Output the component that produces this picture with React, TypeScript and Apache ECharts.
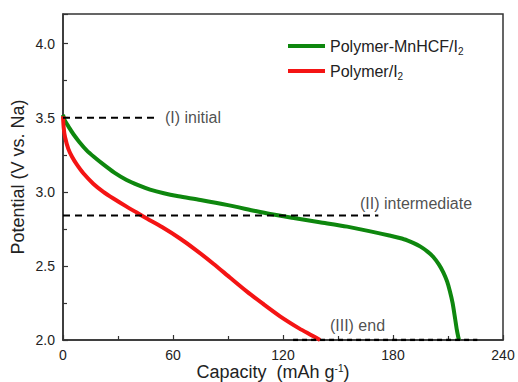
import React, { useEffect, useRef } from "react";
import * as echarts from "echarts";

const FONT = "'Liberation Sans', Arial, sans-serif";

const xTicks = [0, 60, 120, 180, 240];
const yTicks = [2.0, 2.5, 3.0, 3.5, 4.0];

const seriesNames = ["Polymer-MnHCF/I2", "Polymer/I2"];

const greenCurve: [number, number][] = [
  [0, 3.52], [1, 3.48], [3, 3.44], [5.6, 3.39], [9, 3.335], [12.9, 3.28], [17, 3.235],
  [22, 3.185], [28, 3.13], [34.7, 3.08], [41, 3.045], [47.5, 3.015], [55, 2.99],
  [63, 2.97], [75, 2.945], [90, 2.91], [105, 2.87], [113, 2.85], [125, 2.825],
  [140, 2.795], [155, 2.765], [167, 2.735], [178, 2.705], [186, 2.68], [191, 2.655],
  [195, 2.63], [199, 2.595], [202, 2.56], [205, 2.51], [207.5, 2.455], [209.5, 2.395],
  [211, 2.33], [212.5, 2.25], [213.8, 2.15], [214.8, 2.07], [215.6, 2.02], [216, 2.0],
];

const redCurve: [number, number][] = [
  [0, 3.51], [0.4, 3.43], [1.1, 3.37], [2.9, 3.29], [5, 3.235], [7.5, 3.185],
  [11.1, 3.125], [16.5, 3.055], [22, 3.0], [27.5, 2.955], [34.7, 2.9], [40.2, 2.86],
  [46, 2.818], [54, 2.762], [63.8, 2.685], [72, 2.612], [82, 2.515], [91, 2.422],
  [100.2, 2.328], [109, 2.245], [118.4, 2.16], [129, 2.077], [135, 2.036], [140.2, 2.0],
];

const dashInitial: [number, number][] = [[0, 3.5], [50, 3.5]];
const dashIntermediate: [number, number][] = [[0, 2.84], [172, 2.84]];
const dashEnd: [number, number][] = [[125.5, 2.0], [226, 2.0]];

const stageLabels = ["(I) initial", "(II) intermediate", "(III) end"];
const stageLabelPos: [number, number][] = [[55.6, 3.5], [162, 2.92], [145.6, 2.1]];

export default function App() {
  const ref = useRef<HTMLDivElement>(null);
  useEffect(() => {
    if (!ref.current) return;
    const chart = echarts.init(ref.current, undefined, { renderer: "svg" });
    const dashStyle = (w: number, dash: number[]) => ({
      type: "line",
      symbol: "none",
      silent: true,
      z: 5,
      lineStyle: { color: "#000", width: w, type: dash },
    });
    chart.setOption({
      animation: false,
      backgroundColor: "#fff",
      textStyle: { fontFamily: FONT },
      grid: {
        left: 63, right: 15, top: 14, bottom: 42,
        outerBoundsMode: "none",
        containLabel: false,
        show: true, borderColor: "#333", borderWidth: 1.5, backgroundColor: "transparent",
      },
      legend: {
        data: seriesNames,
        orient: "vertical",
        left: 283,
        top: 31,
        itemWidth: 37,
        itemHeight: 4,
        itemGap: 5,
        icon: "rect",
        formatter: (n: string) => n.slice(0, -1) + "{sub|2}",
        textStyle: {
          fontFamily: FONT,
          fontSize: 16,
          color: "#222",
          lineHeight: 20,
          rich: {
            sub: { fontSize: 10, fontFamily: FONT, color: "#222", padding: [10, 0, 0, 0] },
          },
        },
      },
      xAxis: {
        type: "value",
        min: xTicks[0],
        max: xTicks[xTicks.length - 1],
        interval: 60,
        name: "Capacity  (mAh g{sup|-1})",
        nameLocation: "middle",
        nameGap: 23,
        nameMoveOverlap: false,
        nameTextStyle: {
          fontFamily: FONT, fontSize: 18, color: "#222", lineHeight: 18,
          padding: [0, 20, 0, 0],
          rich: { sup: { fontSize: 10, fontFamily: FONT, color: "#222", padding: [0, 0, 8, 0] } },
        },
        axisLine: { show: true, lineStyle: { color: "#333", width: 1.5 } },
        axisTick: { show: true, inside: true, length: 5, lineStyle: { color: "#333", width: 1.2 } },
        minorTick: { show: true, splitNumber: 2, length: 4, lineStyle: { color: "#333", width: 1.2 } },
        splitLine: { show: false },
        axisLabel: { fontFamily: FONT, fontSize: 14, color: "#222", margin: 8 },
      },
      yAxis: {
        type: "value",
        min: yTicks[0],
        max: 4.2,
        interval: 0.5,
        name: "Potential (V vs. Na)",
        nameLocation: "middle",
        nameGap: 36,
        nameMoveOverlap: false,
        nameTextStyle: { fontFamily: FONT, fontSize: 18, color: "#222" },
        axisLine: { show: true, lineStyle: { color: "#333", width: 1.5 } },
        axisTick: { show: true, inside: true, length: 5, lineStyle: { color: "#333", width: 1.2 } },
        minorTick: { show: true, splitNumber: 2, length: 4, lineStyle: { color: "#333", width: 1.2 } },
        splitLine: { show: false },
        axisLabel: {
          fontFamily: FONT, fontSize: 14, color: "#222", margin: 8,
          formatter: (v: number) => (yTicks.some((t) => Math.abs(t - v) < 1e-6) ? v.toFixed(1) : ""),
        },
      },
      series: [
        {
          name: seriesNames[0],
          type: "line",
          data: greenCurve,
          symbol: "none",
          smooth: 0.25,
          color: "#0e870e",
          lineStyle: { color: "#0e870e", width: 4 },
          z: 3,
        },
        {
          name: seriesNames[1],
          type: "line",
          data: redCurve,
          symbol: "none",
          smooth: 0.25,
          color: "#f41414",
          lineStyle: { color: "#f41414", width: 4 },
          z: 3,
        },
        { name: "d1", data: dashInitial, ...dashStyle(2, [7, 5]) },
        { name: "d2", data: dashIntermediate, ...dashStyle(2, [7, 5]) },
        { name: "d3", data: dashEnd, ...dashStyle(2.5, [5, 4]) },
        {
          name: "labels",
          type: "scatter",
          symbolSize: 0,
          silent: true,
          data: stageLabels.map((t, i) => ({ name: t, value: stageLabelPos[i] })),
          label: {
            show: true,
            position: "right",
            distance: 0,
            formatter: (p: any) => p.name,
            fontFamily: FONT,
            fontSize: 16,
            color: "#222",
          },
          z: 6,
        },
      ],
    });
    return () => chart.dispose();
  }, []);
  return (
    <div
      ref={ref}
      style={{ position: "fixed", left: 0, top: 0, width: 518, height: 382, background: "#fff" }}
    />
  );
}
